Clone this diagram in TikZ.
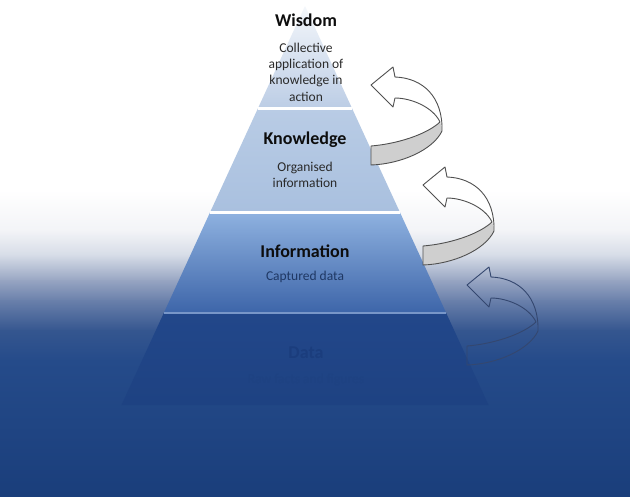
\documentclass[tikz,border=0pt]{standalone}
\usepackage{fontspec}
\setmainfont{Carlito}
\definecolor{bgA}{HTML}{F3F4F7}
\definecolor{bgB}{HTML}{D6DCE7}
\definecolor{bgC}{HTML}{97A5C2}
\definecolor{bgD}{HTML}{6A80AB}
\definecolor{bgE}{HTML}{35568F}
\definecolor{bgF}{HTML}{254B8A}
\definecolor{bgG}{HTML}{1A3E7B}
\definecolor{wisT}{HTML}{F4F7FB}
\definecolor{wisB}{HTML}{BCCDE5}
\definecolor{knoT}{HTML}{B9CCE5}
\definecolor{knoB}{HTML}{A9C0DF}
\definecolor{infT}{HTML}{8FB2E0}
\definecolor{infB}{HTML}{3D65A9}
\definecolor{datT}{HTML}{22478A}
\definecolor{datB}{HTML}{1E4282}
\definecolor{sepD}{HTML}{7896C8}
\definecolor{subtxt}{HTML}{2A2A2A}
\definecolor{navytxt}{HTML}{1F3864}
\definecolor{datatxt}{HTML}{1B3D7D}
\definecolor{datasub}{HTML}{1E4282}
\definecolor{arrgrey}{HTML}{CFCFCF}
\definecolor{arroutline}{HTML}{505050}
\definecolor{arrdark}{HTML}{34476F}
\tikzset{
  title/.style={font=\fontsize{18}{20}\selectfont\bfseries, text=black!95},
  subtitle/.style={font=\fontsize{13.5}{16.4}\selectfont, align=center, text=subtxt},
  arrface/.style={fill=white},
  arrside/.style={fill=arrgrey},
  arrline/.style={draw=arroutline, line width=0.9pt, line join=round},
  pics/curvedarrow/.style={code={
    \fill[arrface] (0,0) -- (22,-18) -- (24,-8) .. controls (52,-7) and (72,12) .. (71,46)
      .. controls (62,65) and (30,79) .. (0,80) -- (0,61)
      .. controls (25,59) and (55,50) .. (69,37)
      .. controls (62,22) and (40,13) .. (24,13) -- (22,22) -- cycle;
    \fill[arrside] (69,37) .. controls (71,40) and (71,43) .. (71,46)
      .. controls (62,65) and (30,79) .. (0,80) -- (0,61)
      .. controls (25,59) and (55,50) .. (69,37) -- cycle;
    \path[arrline] (0,0) -- (22,-18) -- (24,-8) .. controls (52,-7) and (72,12) .. (71,46)
      .. controls (62,65) and (30,79) .. (0,80) -- (0,61)
      .. controls (25,59) and (55,50) .. (69,37)
      .. controls (62,22) and (40,13) .. (24,13) -- (22,22) -- cycle;
  }}
}
\begin{document}
\begin{tikzpicture}[x=1pt,y=-1pt]
\useasboundingbox (0,0) rectangle (630,496);
% background
\fill[white] (0,0) rectangle (630,191);
\shade[top color=white, bottom color=bgA] (0,190) rectangle (630,231);
\shade[top color=bgA, bottom color=bgB] (0,230) rectangle (630,256);
\shade[top color=bgB, bottom color=bgC] (0,255) rectangle (630,281);
\shade[top color=bgC, bottom color=bgD] (0,280) rectangle (630,301);
\shade[top color=bgD, bottom color=bgE] (0,300) rectangle (630,331);
\shade[top color=bgE, bottom color=bgF] (0,330) rectangle (630,361);
\shade[top color=bgF, bottom color=bgG] (0,360) rectangle (630,496);
% pyramid corners
\coordinate (apex) at (305,6);
\coordinate (l1) at (258.1,108); \coordinate (r1) at (351.9,108);
\coordinate (l2) at (210.2,212); \coordinate (r2) at (399.8,212);
\coordinate (l3) at (163.8,313); \coordinate (r3) at (446.2,313);
\coordinate (l4) at (121.5,405); \coordinate (r4) at (488.5,405);
\shade[top color=wisT, bottom color=wisB] (apex) -- (r1) -- (l1) -- cycle;
\shade[top color=knoT, bottom color=knoB] (l1) -- (r1) -- (r2) -- (l2) -- cycle;
\shade[top color=infT, bottom color=infB] (l2) -- (r2) -- (r3) -- (l3) -- cycle;
\shade[top color=datT, bottom color=datB] (l3) -- (r3) -- (r4) -- (l4) -- cycle;
\draw[white, line width=3pt] (l1) -- (r1);
\draw[white, line width=3pt] (l2) -- (r2);
\draw[sepD, line width=2pt] (l3) -- (r3);
% texts
\node[title] (wis) at (306,20) {Wisdom};
\node[subtitle] (wissub) at (306,72) {Collective\\application of\\knowledge in\\action};
\node[title] (kno) at (305,140) {Knowledge};
\node[subtitle] (knosub) at (305,175) {Organised\\information};
\node[title] (inf) at (305,251) {Information};
\node[subtitle, text=navytxt] (infsub) at (305,277) {Captured data};
\node[title, text=datatxt] (dat) at (306,353) {Data};
\node[subtitle, text=datasub] (datsub) at (306,380) {Raw facts and figures};
% arrows
\pic (arrowA) at (371,85) {curvedarrow};
\pic (arrowB) at (423,185) {curvedarrow};
\begin{scope}[arrface/.style={fill=none}, arrside/.style={fill=none},
  arrline/.style={draw=arrdark, line width=0.9pt, line join=round}]
\pic (arrowC) at (467,285) {curvedarrow};
\end{scope}
\end{tikzpicture}
\end{document}
